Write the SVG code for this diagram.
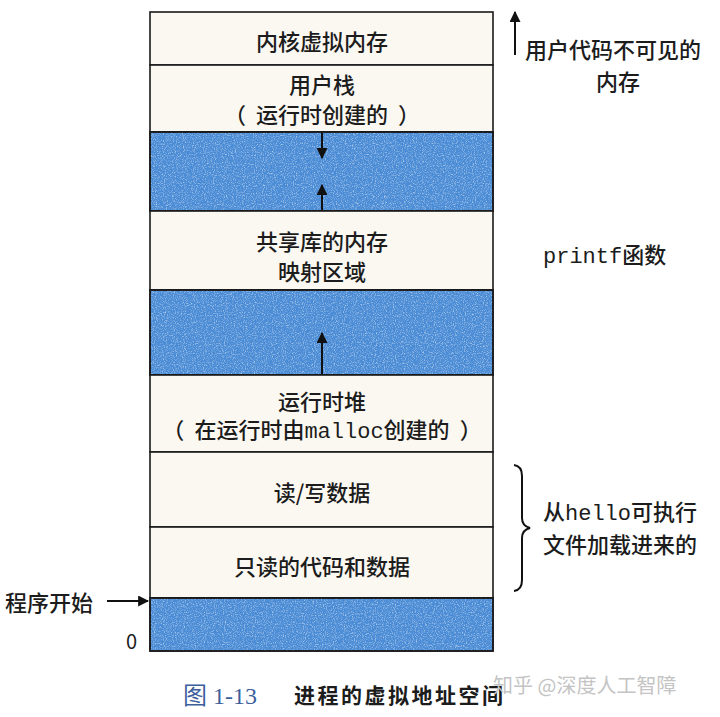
<svg xmlns="http://www.w3.org/2000/svg" width="720" height="717" viewBox="0 0 720 717">
  <style>
    .cell { fill: #fbf8f2; stroke: #1a1a1a; stroke-width: 1.6; }
    .gap { fill: #4a8bd5; stroke: #1a1a1a; stroke-width: 1.6; }
    .zh { font-family: "Noto Sans CJK SC", "Noto Sans", sans-serif; font-size: 22px; font-weight: 500; fill: #1c1c1c; }
    .mono { font-family: "Liberation Mono", "DejaVu Sans Mono", monospace; font-weight: normal; }
    .line { stroke: #111; stroke-width: 2; fill: none; }
    .cap-num { font-family: "Liberation Serif", "Noto Sans CJK SC", serif; font-size: 24px; fill: #3d5f9c; }
    .cap { font-family: "Noto Sans CJK SC", sans-serif; font-size: 21px; font-weight: bold; fill: #1c1c1c; letter-spacing: 2.5px; }
    .wm { font-family: "Noto Sans CJK SC", sans-serif; font-size: 20px; fill: #c4c4c4; }
  </style>
  <defs>
    <marker id="head" viewBox="0 0 10 10" refX="9" refY="5" markerWidth="5.5" markerHeight="5.5" orient="auto-start-reverse" markerUnits="strokeWidth">
      <path d="M0,0 L10,5 L0,10 z" fill="#111"/>
    </marker>
    <filter id="grain" x="0" y="0" width="100%" height="100%">
      <feTurbulence type="fractalNoise" baseFrequency="0.9" numOctaves="2" seed="4" result="n"/>
      <feColorMatrix in="n" type="matrix" values="0 0 0 0 1  0 0 0 0 1  0 0 0 0 1  0 0 0 1.4 -0.65" result="w"/>
      <feComposite in="w" in2="SourceGraphic" operator="in"/>
    </filter>
  </defs>

  <rect width="720" height="717" fill="#ffffff"/>

  <!-- address space segments, top to bottom -->
  <g id="kernel">
    <rect class="cell" x="150" y="12" width="343" height="53"/>
    <text class="zh" x="322" y="50" text-anchor="middle">内核虚拟内存</text>
  </g>
  <g id="user-stack">
    <rect class="cell" x="150" y="65" width="343" height="67"/>
    <text class="zh" x="322" y="93" text-anchor="middle">用户栈</text>
    <text class="zh" x="322" y="123" text-anchor="middle">（<tspan dx="10">运行时创建的</tspan><tspan dx="10">）</tspan></text>
  </g>
  <g id="gap-upper">
    <rect class="gap" x="150" y="132" width="343" height="79"/>
    <rect x="150" y="132" width="343" height="79" fill="#4a8bd5" filter="url(#grain)"/>
    <rect x="150" y="132" width="343" height="79" fill="none" stroke="#1a1a1a" stroke-width="1.6"/>
  </g>
  <g id="shared-libs">
    <rect class="cell" x="150" y="211" width="343" height="79"/>
    <text class="zh" x="322" y="250" text-anchor="middle">共享库的内存</text>
    <text class="zh" x="322" y="280" text-anchor="middle">映射区域</text>
  </g>
  <g id="gap-middle">
    <rect class="gap" x="150" y="290" width="343" height="85"/>
    <rect x="150" y="290" width="343" height="85" fill="#4a8bd5" filter="url(#grain)"/>
    <rect x="150" y="290" width="343" height="85" fill="none" stroke="#1a1a1a" stroke-width="1.6"/>
  </g>
  <g id="heap">
    <rect class="cell" x="150" y="375" width="343" height="77"/>
    <text class="zh" x="322" y="410" text-anchor="middle">运行时堆</text>
    <text class="zh" x="322" y="438" text-anchor="middle">（<tspan dx="10">在运行时由</tspan><tspan class="mono">malloc</tspan>创建的<tspan dx="10">）</tspan></text>
  </g>
  <g id="rw-data">
    <rect class="cell" x="150" y="452" width="343" height="75"/>
    <text class="zh" x="322" y="501" text-anchor="middle">读/写数据</text>
  </g>
  <g id="ro-code">
    <rect class="cell" x="150" y="527" width="343" height="71"/>
    <text class="zh" x="322" y="575" text-anchor="middle">只读的代码和数据</text>
  </g>
  <g id="gap-bottom">
    <rect class="gap" x="150" y="598" width="343" height="53"/>
    <rect x="150" y="598" width="343" height="53" fill="#4a8bd5" filter="url(#grain)"/>
    <rect x="150" y="598" width="343" height="53" fill="none" stroke="#1a1a1a" stroke-width="1.6"/>
  </g>

  <!-- side annotations -->
  <g id="note-kernel">
    <text class="zh" x="525" y="58">用户代码不可见的</text>
    <text class="zh" x="618" y="90" text-anchor="middle">内存</text>
  </g>
  <g id="note-printf">
    <text class="zh" x="543" y="263"><tspan class="mono">printf</tspan>函数</text>
  </g>
  <g id="note-loaded">
    <text class="zh" x="543" y="520">从<tspan class="mono">hello</tspan>可执行</text>
    <text class="zh" x="543" y="553">文件加载进来的</text>
  </g>
  <g id="note-start">
    <text class="zh" x="5" y="611">程序开始</text>
    <text class="zh" x="126" y="649" style="font-size:20px;font-weight:normal">0</text>
  </g>

  <!-- connectors -->
  <g id="connectors">
    <line class="line" x1="322" y1="133" x2="322" y2="158" marker-end="url(#head)"/>
    <line class="line" x1="322" y1="210" x2="322" y2="185" marker-end="url(#head)"/>
    <line class="line" x1="322" y1="374" x2="322" y2="333" marker-end="url(#head)"/>
    <line class="line" x1="515" y1="55" x2="515" y2="12" marker-end="url(#head)"/>
    <line class="line" x1="107" y1="601" x2="148" y2="601" marker-end="url(#head)"/>
    <path class="line" d="M514,465 Q522,466 522,476 L522,518 Q522,526 530,528 Q522,530 522,538 L522,580 Q522,590 514,591" stroke-width="1.8"/>
  </g>

  <!-- caption -->
  <g id="caption">
    <text class="cap-num" x="183" y="704">图 1-13</text>
    <text class="cap" x="294" y="703">进程的虚拟地址空间</text>
    <text class="wm" x="493" y="693">知乎 @深度人工智障</text>
  </g>
</svg>
